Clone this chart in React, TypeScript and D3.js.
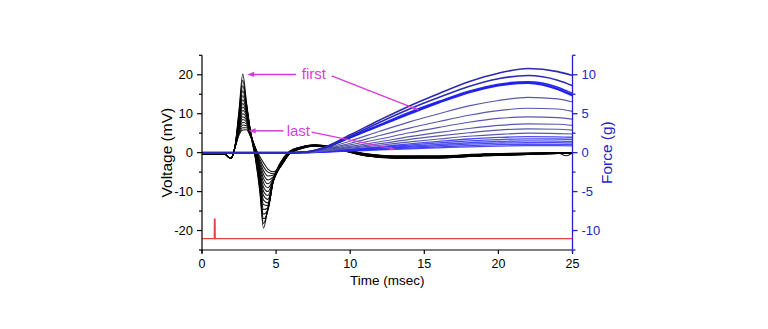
import * as d3 from 'd3';

// voltage traces (mV) sampled at these times (msec)
const voltTimes = [0, 1.5, 1.95, 2.25, 2.5, 2.75, 3.0, 3.3, 3.6, 3.9, 4.15, 4.45, 4.8, 5.3, 5.9, 6.6, 7.6, 9, 11, 13, 16, 19, 22, 24, 24.6, 25];

const voltTraces = [
  [-0.3, -0.3, -1.5, 2.2, 11.0, 20.2, 13.0, 4.5, -1.5, -10.0, -19.4, -14.0, -7.0, -2.5, 0.3, 1.4, 1.9, 1.2, -0.2, -0.8, -0.8, -0.3, -0.1, 0.0, -0.1, 0.0],
  [-0.3, -0.3, -1.5, 2.2, 10.4, 18.6, 12.6, 4.6, -1.2, -9.4, -18.2, -14.5, -7.2, -2.6, 0.3, 1.4, 1.95, 1.25, -0.3, -0.9, -0.9, -0.4, -0.1, 0.0, -0.1, 0.0],
  [-0.3, -0.3, -1.5, 2.1, 9.8, 17.2, 12.2, 4.7, -0.9, -8.8, -17.0, -14.8, -7.3, -2.7, 0.2, 1.35, 2.0, 1.3, -0.3, -0.9, -0.9, -0.4, -0.2, 0.0, -0.1, 0.0],
  [-0.3, -0.3, -1.5, 2.1, 9.3, 15.9, 11.8, 4.8, -0.6, -8.2, -15.8, -14.6, -7.4, -2.8, 0.2, 1.3, 2.0, 1.3, -0.4, -1.0, -1.0, -0.4, -0.2, -0.1, -0.1, 0.0],
  [-0.3, -0.3, -1.5, 2.0, 8.8, 14.7, 11.3, 4.8, -0.3, -7.6, -14.6, -14.2, -7.5, -2.9, 0.1, 1.3, 1.95, 1.25, -0.4, -1.0, -1.0, -0.5, -0.2, -0.1, -0.1, 0.0],
  [-0.3, -0.3, -1.5, 2.0, 8.3, 13.6, 10.9, 4.8, 0.0, -7.0, -13.4, -13.6, -7.5, -3.0, 0.1, 1.25, 1.9, 1.2, -0.5, -1.1, -1.0, -0.5, -0.3, -0.1, -0.1, 0.0],
  [-0.3, -0.3, -1.5, 1.9, 7.9, 12.6, 10.4, 4.8, 0.2, -6.4, -12.2, -12.9, -7.5, -3.1, 0.0, 1.2, 1.9, 1.2, -0.5, -1.1, -1.1, -0.5, -0.3, -0.1, -0.1, 0.0],
  [-0.3, -0.3, -1.5, 1.9, 7.5, 11.7, 9.9, 4.7, 0.4, -5.8, -11.0, -12.0, -7.4, -3.2, 0.0, 1.2, 1.85, 1.15, -0.5, -1.1, -1.1, -0.6, -0.3, -0.1, -0.2, 0.0],
  [-0.3, -0.3, -1.5, 1.8, 7.1, 10.8, 9.4, 4.6, 0.6, -5.2, -9.9, -11.0, -7.3, -3.3, -0.1, 1.15, 1.85, 1.15, -0.6, -1.2, -1.1, -0.6, -0.3, -0.1, -0.2, 0.0],
  [-0.3, -0.3, -1.5, 1.8, 6.7, 10.0, 8.9, 4.5, 0.8, -4.6, -8.8, -10.0, -7.1, -3.4, -0.1, 1.1, 1.8, 1.1, -0.6, -1.2, -1.2, -0.6, -0.4, -0.1, -0.2, 0.0],
  [-0.3, -0.3, -1.5, 1.8, 6.3, 9.2, 8.4, 4.4, 0.9, -4.0, -7.7, -9.0, -6.9, -3.5, -0.2, 1.1, 1.8, 1.1, -0.6, -1.2, -1.2, -0.7, -0.4, -0.1, -0.8, 0.0],
  [-0.3, -0.3, -1.5, 1.7, 6.0, 8.5, 7.9, 4.3, 1.0, -3.4, -6.6, -8.0, -6.6, -3.5, -0.2, 1.05, 1.75, 1.05, -0.7, -1.3, -1.2, -0.7, -0.4, -0.2, -0.2, 0.0],
  [-0.3, -0.3, -1.5, 1.7, 5.6, 7.8, 7.4, 4.2, 1.1, -2.8, -5.6, -7.0, -6.2, -3.6, -0.3, 1.0, 1.75, 1.05, -0.7, -1.3, -1.3, -0.7, -0.4, -0.2, -0.2, 0.0],
  [-0.3, -0.3, -1.5, 1.7, 5.2, 7.1, 6.9, 4.1, 1.2, -2.2, -4.6, -6.0, -5.8, -3.6, -0.3, 1.0, 1.7, 1.0, -0.7, -1.3, -1.3, -0.8, -0.5, -0.2, -0.2, 0.0],
  [-0.3, -0.3, -1.5, 1.6, 4.9, 6.4, 6.4, 4.0, 1.2, -1.6, -3.6, -5.0, -5.4, -3.6, -0.3, 0.95, 1.7, 1.0, -0.8, -1.4, -1.3, -0.8, -0.5, -0.2, -0.2, 0.0],
  [-0.3, -0.3, -1.5, 1.6, 4.5, 5.8, 5.9, 3.9, 1.2, -1.0, -2.6, -4.2, -4.9, -3.5, -0.3, 0.9, 1.65, 0.95, -0.8, -1.4, -1.4, -0.8, -0.5, -0.2, -0.2, 0.0],
];

// force traces (g)
const forceTimes = [0, 6, 7, 8, 10, 12, 14, 16, 18, 20, 22, 24, 25];

const forceTraces = [
  [0, 0, 0.08, 0.5, 2.3, 4.2, 6.0, 7.6, 9.1, 10.2, 10.8, 10.4, 9.9],
  [0, 0, 0.08, 0.5, 2.1, 3.9, 5.6, 7.1, 8.5, 9.5, 9.9, 9.3, 8.6],
  [0, 0, 0.07, 0.45, 2.0, 3.6, 5.2, 6.6, 7.9, 8.8, 9.1, 8.4, 7.6],
  [0, 0, 0.07, 0.45, 1.95, 3.5, 5.05, 6.5, 7.8, 8.7, 9.0, 8.2, 7.4],
  [0, 0, 0.07, 0.45, 1.9, 3.45, 4.95, 6.4, 7.7, 8.6, 8.9, 8.1, 7.3],
  [0, 0, 0.05, 0.38, 1.5, 2.75, 3.95, 5.0, 6.0, 6.7, 7.1, 6.9, 6.5],
  [0, 0, 0.05, 0.32, 1.2, 2.2, 3.15, 4.0, 4.8, 5.4, 5.7, 5.6, 5.3],
  [0, 0, 0.04, 0.27, 1.0, 1.75, 2.55, 3.25, 3.9, 4.4, 4.6, 4.5, 4.3],
  [0, 0, 0.04, 0.22, 0.8, 1.4, 2.05, 2.6, 3.1, 3.5, 3.7, 3.65, 3.5],
  [0, 0, 0.03, 0.18, 0.68, 1.15, 1.7, 2.15, 2.55, 2.9, 3.05, 3.0, 2.9],
  [0, 0, 0.03, 0.15, 0.56, 0.95, 1.38, 1.75, 2.1, 2.35, 2.5, 2.45, 2.4],
  [0, 0, 0.02, 0.12, 0.45, 0.78, 1.12, 1.45, 1.75, 1.95, 2.06, 2.03, 1.98],
  [0, 0, 0.02, 0.1, 0.4, 0.68, 0.97, 1.25, 1.5, 1.68, 1.77, 1.75, 1.7],
  [0, 0, 0.02, 0.09, 0.34, 0.58, 0.82, 1.05, 1.27, 1.43, 1.5, 1.49, 1.45],
  [0, 0, 0.02, 0.08, 0.29, 0.5, 0.71, 0.9, 1.1, 1.23, 1.3, 1.29, 1.26],
  [0, 0, 0.01, 0.07, 0.25, 0.42, 0.59, 0.75, 0.9, 1.02, 1.08, 1.07, 1.05],
  [0, 0, 0.01, 0.06, 0.2, 0.35, 0.49, 0.62, 0.75, 0.85, 0.9, 0.9, 0.88],
];

// stimulus marker (drawn on voltage scale)
const stimTimes = [0, 0.83, 0.84, 0.88, 0.89, 25];
const stimValues = [-22.1, -22.1, -17.1, -17.1, -22.1, -22.1];

const timeTicks = [0, 5, 10, 15, 20, 25];
const voltTicks = [-20, -10, 0, 10, 20];
const voltMinor = [-25, -15, -5, 5, 15, 25];
const forceTicks = [-10, -5, 0, 5, 10];
const forceMinor = [-12.5, -7.5, -2.5, 2.5, 7.5, 12.5];

// annotations: label position (t, mV), arrow tip on voltage peak, pointer end on force trace (t, g)
const notes = [
  { text: 'first', t: 7.55, v: 20.1, arrowFrom: 6.35, arrowTo: 3.05, lineFrom: [8.75, 19.7], lineTo: [14.6, 5.5] },
  { text: 'last', t: 6.5, v: 5.6, arrowFrom: 5.5, arrowTo: 3.15, lineFrom: [7.4, 5.3], lineTo: [13.0, 0.45] },
];

const W = 768;
const H = 329;
const FONT = '"Liberation Sans", Arial, sans-serif';
const MAGENTA = '#d93ad9';
const AXIS_BLUE = '#2323c8';

export default function App() {
  const x = d3.scaleLinear().domain([0, 25]).range([202, 572.5]);
  const yV = d3.scaleLinear().domain([-25, 25]).range([250, 55.3]);
  const yF = d3.scaleLinear().domain([-12.5, 12.5]).range([250, 55.3]);

  const voltLine = d3.line<number>()
    .x((_, i) => x(voltTimes[i]))
    .y((d) => yV(d))
    .curve(d3.curveMonotoneX);

  const forceLine = d3.line<number>()
    .x((_, i) => x(forceTimes[i]))
    .y((d) => yF(d))
    .curve(d3.curveMonotoneX);

  const stimLine = d3.line<number>()
    .x((_, i) => x(stimTimes[i]))
    .y((d) => yV(d));

  const forceStyle = (i: number) => {
    if (i < 2) return { stroke: '#2a2ab4', width: 1.6, op: 1 };
    if (i < 5) return { stroke: '#1c1cec', width: 1.5, op: 0.95 };
    if (i < 11) return { stroke: '#5858ac', width: 1.15, op: 1 };
    return { stroke: '#2d2df0', width: 1.3, op: 0.85 };
  };

  const arrowHead = (tx: number, ty: number, dx: number, dy: number, size = 7) => {
    const len = Math.hypot(dx, dy);
    const ux = dx / len;
    const uy = dy / len;
    const bx = tx - ux * size;
    const by = ty - uy * size;
    const px = -uy * size * 0.38;
    const py = ux * size * 0.38;
    return `M${tx},${ty}L${bx + px},${by + py}L${bx - px},${by - py}Z`;
  };

  const x0 = x(0);
  const x1 = x(25);

  return (
    <svg width={W} height={H} style={{ position: 'absolute', left: 0, top: 0, background: '#fff' }} fontFamily={FONT}>
      {/* stimulus */}
      <path d={stimLine(stimValues) ?? ''} fill="none" stroke="#e8403a" strokeWidth={1.3} />

      {/* voltage traces */}
      <g fill="none" stroke="#000" strokeWidth={1.05} strokeOpacity={0.92}>
        {voltTraces.map((tr, i) => (
          <path key={i} d={voltLine(tr) ?? ''} />
        ))}
      </g>

      {/* force traces, smallest first so the big ones sit on top */}
      <g fill="none">
        {forceTraces.map((tr, i) => ({ tr, i })).reverse().map(({ tr, i }) => {
          const s = forceStyle(i);
          return <path key={i} d={forceLine(tr) ?? ''} stroke={s.stroke} strokeWidth={s.width} strokeOpacity={s.op} />;
        })}
      </g>

      {/* left axis */}
      <g stroke="#000" strokeWidth={1.2}>
        <line x1={x0} x2={x0} y1={yV(25)} y2={yV(-25) + 3} />
        {voltTicks.map((v) => <line key={v} x1={x0 - 5} x2={x0} y1={yV(v)} y2={yV(v)} />)}
        {voltMinor.map((v) => <line key={v} x1={x0 - 3} x2={x0} y1={yV(v)} y2={yV(v)} />)}
      </g>
      <g fontSize={13} textAnchor="end" fill="#000">
        {voltTicks.map((v) => (
          <text key={v} x={x0 - 9} y={yV(v) + 4.5}>{v}</text>
        ))}
      </g>
      <text transform={`translate(${172},${yV(0)}) rotate(-90)`} textAnchor="middle" fontSize={15.5} fill="#000">Voltage (mV)</text>

      {/* bottom axis */}
      <g stroke="#000" strokeWidth={1.2}>
        <line x1={x0} x2={x1} y1={yV(-25)} y2={yV(-25)} />
        {timeTicks.map((t) => <line key={t} x1={x(t)} x2={x(t)} y1={yV(-25)} y2={yV(-25) + 4} />)}
      </g>
      <g fontSize={12.5} textAnchor="middle" fill="#000">
        {timeTicks.map((t) => (
          <text key={t} x={x(t)} y={268}>{t}</text>
        ))}
      </g>
      <text x={x(12.5)} y={285} textAnchor="middle" fontSize={13.5} fill="#000">Time (msec)</text>

      {/* right axis */}
      <g stroke={AXIS_BLUE} strokeWidth={1.3}>
        <line x1={x1} x2={x1} y1={yF(12.5)} y2={yF(-12.5) + 3} />
        {forceTicks.map((v) => <line key={v} x1={x1} x2={x1 + 5} y1={yF(v)} y2={yF(v)} />)}
        {forceMinor.map((v) => <line key={v} x1={x1} x2={x1 + 3} y1={yF(v)} y2={yF(v)} />)}
      </g>
      <g fontSize={13} textAnchor="start" fill={AXIS_BLUE}>
        {forceTicks.map((v) => (
          <text key={v} x={x1 + 9} y={yF(v) + 4.5}>{v}</text>
        ))}
      </g>
      <text transform={`translate(${612},${yF(0)}) rotate(-90)`} textAnchor="middle" fontSize={15.5} fill={AXIS_BLUE}>Force (g)</text>

      {/* annotations */}
      {notes.map((n) => {
        const ay = yV(n.v);
        const lx1 = x(n.lineFrom[0]);
        const ly1 = yV(n.lineFrom[1]);
        const lx2 = x(n.lineTo[0]);
        const ly2 = yF(n.lineTo[1]);
        return (
          <g key={n.text}>
            <text x={x(n.t)} y={ay + 5} textAnchor="middle" fontSize={15} fill={MAGENTA}>{n.text}</text>
            <line x1={x(n.arrowFrom)} x2={x(n.arrowTo) + 5} y1={ay} y2={ay} stroke={MAGENTA} strokeWidth={1.5} />
            <path d={arrowHead(x(n.arrowTo), ay, -1, 0)} fill={MAGENTA} />
            <line x1={lx1} y1={ly1} x2={lx2} y2={ly2} stroke={MAGENTA} strokeWidth={1.3} />
            <path d={arrowHead(lx2, ly2, lx2 - lx1, ly2 - ly1, 5)} fill={MAGENTA} />
          </g>
        );
      })}
    </svg>
  );
}
